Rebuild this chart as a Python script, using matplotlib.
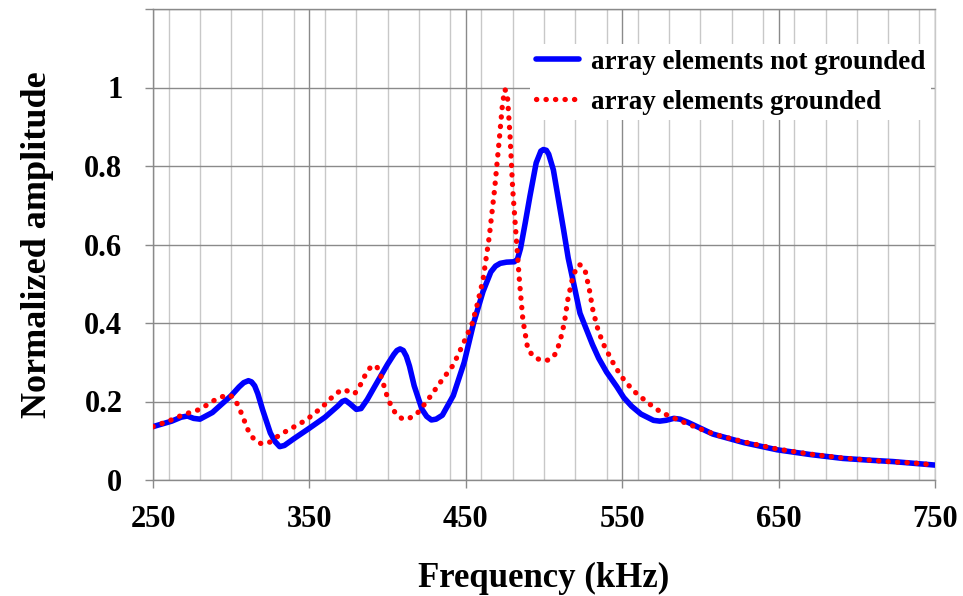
import matplotlib
matplotlib.use("Agg")
import matplotlib.pyplot as plt
from matplotlib.ticker import MultipleLocator

# ---- data ----
freq_not_grounded = [250, 262, 268, 272, 276, 280, 288, 300, 305, 308, 311, 313, 315, 317, 320, 325, 328,
                     331, 334, 340, 350, 360, 368, 371, 373, 376, 380, 383, 387, 392, 400, 404, 406,
                     408, 410, 412, 414, 417, 422, 425, 428, 431, 435, 442, 449, 455, 461, 466, 469,
                     472, 476, 481, 483, 485, 488, 491, 495, 498, 499.6, 501.5, 503, 506, 509, 512.5,
                     515.5, 518.9, 523, 527, 531, 535, 540, 546.5, 551, 556, 562, 570, 574, 578, 583,
                     587, 592, 600, 608, 628, 649, 670, 691, 710, 723, 735, 750]
amp_not_grounded = [0.136, 0.150, 0.160, 0.163, 0.157, 0.155, 0.172, 0.215, 0.237, 0.248, 0.253, 0.250,
                    0.240, 0.220, 0.180, 0.120, 0.098, 0.085, 0.088, 0.105, 0.132, 0.160, 0.188, 0.200,
                    0.203, 0.194, 0.180, 0.182, 0.205, 0.240, 0.295, 0.320, 0.330, 0.334, 0.330, 0.315,
                    0.290, 0.240, 0.180, 0.162, 0.153, 0.155, 0.165, 0.215, 0.300, 0.400, 0.480, 0.530,
                    0.545, 0.552, 0.555, 0.556, 0.562, 0.590, 0.655, 0.723, 0.808, 0.838, 0.842, 0.840,
                    0.830, 0.790, 0.720, 0.638, 0.565, 0.502, 0.425, 0.385, 0.345, 0.310, 0.275, 0.238,
                    0.210, 0.188, 0.168, 0.152, 0.150, 0.152, 0.157, 0.155, 0.147, 0.132, 0.117, 0.095,
                    0.077, 0.065, 0.055, 0.050, 0.047, 0.043, 0.038]

freq_grounded = [250, 260, 269, 280, 290, 296, 299, 302, 305, 308, 311, 314, 317, 319.5, 322, 325, 331,
                 340, 348, 358, 366, 370, 373, 376, 379, 383, 386, 389, 391, 393, 396, 400.4, 405,
                 409, 413, 419, 425, 433, 442, 448, 454, 457, 461, 465, 468.4, 471.6, 473.5, 475,
                 476.5, 478.3, 480, 482.2, 484.4, 486.5, 489.7, 494, 499, 503.5, 507, 510, 513, 515.2,
                 518, 520.6, 522.5, 524.5, 526.5, 529, 531.2, 534, 537.6, 545.4, 552, 559, 567, 575,
                 583, 590, 600, 610, 628, 649, 670, 691, 710, 723, 735, 750]
amp_grounded = [0.136, 0.150, 0.166, 0.180, 0.205, 0.215, 0.217, 0.208, 0.185, 0.155, 0.125, 0.107,
                0.097, 0.092, 0.093, 0.097, 0.115, 0.135, 0.153, 0.185, 0.217, 0.228, 0.230, 0.222,
                0.220, 0.245, 0.270, 0.287, 0.292, 0.290, 0.262, 0.204, 0.170, 0.157, 0.155, 0.170,
                0.200, 0.245, 0.293, 0.344, 0.398, 0.442, 0.510, 0.620, 0.740, 0.876, 0.960, 0.995,
                0.985, 0.876, 0.740, 0.620, 0.502, 0.408, 0.332, 0.312, 0.304, 0.306, 0.320, 0.349,
                0.400, 0.459, 0.510, 0.540, 0.549, 0.545, 0.530, 0.485, 0.434, 0.390, 0.349, 0.289,
                0.250, 0.221, 0.195, 0.172, 0.158, 0.146, 0.130, 0.115, 0.097, 0.079, 0.066, 0.056,
                0.050, 0.046, 0.044, 0.038]

label_not_grounded = "array elements not grounded"
label_grounded = "array elements grounded"
xlabel = "Frequency (kHz)"
ylabel = "Normalized amplitude"
xticks = [250, 350, 450, 550, 650, 750]
yticks = [0, 0.2, 0.4, 0.6, 0.8, 1.0]
yticklabels = ["0", "0.2", "0.4", "0.6", "0.8", "1"]

plt.rcParams['font.family'] = ['Liberation Serif', 'DejaVu Serif']
plt.rcParams['font.weight'] = 'bold'

fig = plt.figure(figsize=(9.63, 5.96), dpi=100)
ax = fig.add_axes([153/963, 116/596, (935-153)/963, (480-9)/596])

ax.plot(freq_not_grounded, amp_not_grounded, color='#0000ff', lw=4.0, solid_joinstyle='round',
        solid_capstyle='round', label=label_not_grounded, zorder=3)
ax.plot(freq_grounded, amp_grounded, color='#ff0000', lw=3.8, linestyle=(0, (0.05, 1.75)),
        dash_capstyle='round', label=label_grounded, zorder=4)

ax.set_xlim(250, 750)
ax.set_ylim(0, 1.2)
ax.set_xticks(xticks)
ax.set_xticklabels([str(t) for t in xticks])
ax.xaxis.set_minor_locator(MultipleLocator(20))
ax.set_yticks(yticks + [1.2])
ax.set_yticklabels(yticklabels + [""])

ax.grid(True, which='major', axis='both', color='#8a8a8a', lw=1.0, zorder=0)
ax.grid(True, which='minor', axis='x', color='#c8c8c8', lw=1.0, zorder=0)
ax.set_axisbelow(True)

for s in ['left', 'bottom', 'top']:
    ax.spines[s].set_color('#8a8a8a')
    ax.spines[s].set_linewidth(1.0)
ax.spines['right'].set_color('#c8c8c8')
ax.spines['right'].set_linewidth(1.0)

ax.tick_params(axis='both', which='major', length=6, width=1, color='#8a8a8a',
               labelsize=22, pad=12)
ax.tick_params(axis='y', which='major', pad=16)
ax.tick_params(axis='x', which='minor', length=0)
for lab in ax.get_xticklabels() + ax.get_yticklabels():
    lab.set_fontweight('bold')

ax.set_xlabel(xlabel, fontsize=25, fontweight='bold', labelpad=20)
ax.set_ylabel(ylabel, fontsize=26, fontweight='bold', labelpad=22)

leg = ax.legend(loc='upper right', bbox_to_anchor=(0.995, 0.925),
                frameon=True, facecolor='white', edgecolor='none', framealpha=1.0,
                handlelength=1.6, handletextpad=0.45, labelspacing=0.55, borderpad=0.2,
                borderaxespad=0.0, prop={'weight': 'bold', 'size': 19.5})
leg.get_frame().set_linewidth(0)

fig.savefig("out.png", dpi=100)
